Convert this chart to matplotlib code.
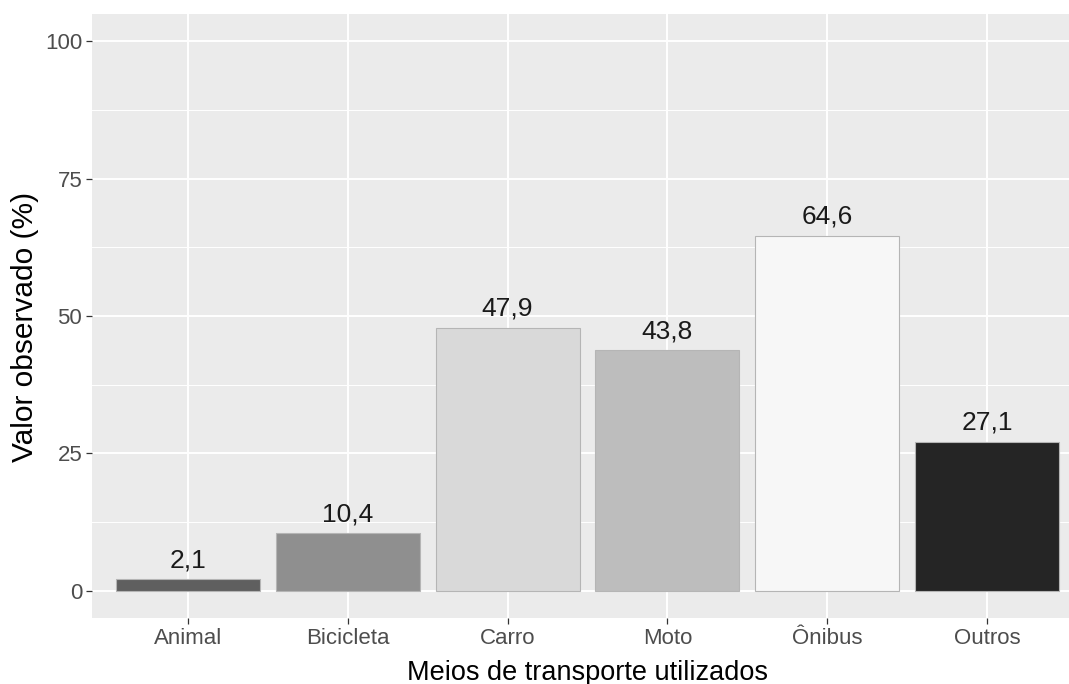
import matplotlib
matplotlib.use("Agg")
import matplotlib.pyplot as plt
import numpy as np

# Transport modes and observed percentages
categorias = ["Animal", "Bicicleta", "Carro", "Moto", "Ônibus", "Outros"]
valores = [2.1, 10.4, 47.9, 43.8, 64.6, 27.1]
cores = ["#5f5f5f", "#8f8f8f", "#d9d9d9", "#bdbdbd", "#f7f7f7", "#252525"]
yticks = [0, 25, 50, 75, 100]

plt.rcParams["font.family"] = ["Liberation Sans", "DejaVu Sans"]

W, H = 1069, 684
fig = plt.figure(figsize=(W / 100, H / 100), dpi=100)
fig.patch.set_facecolor("white")

left, right, top, bottom = 92, 1083, 14, 618
ax = fig.add_axes([left / W, 1 - bottom / H, (right - left) / W, (bottom - top) / H])
ax.set_facecolor("#EBEBEB")

x = np.arange(len(categorias))
ax.bar(x, valores, width=0.9, color=cores, edgecolor="#b5b5b5", linewidth=0.8, zorder=3)

for xi, v in zip(x, valores):
    ax.annotate(f"{v:.1f}".replace(".", ","), (xi, v), xytext=(0, 5),
                textcoords="offset points", ha="center", va="bottom",
                fontsize=19, color="#1a1a1a", zorder=4)

ax.set_xlim(-0.6, len(categorias) - 0.4)
ax.set_ylim(-5, 105)
ax.set_xticks(x)
ax.set_xticklabels(categorias)
ax.set_yticks(yticks)
ax.set_yticklabels([str(t) for t in yticks])
ax.set_yticks([12.5, 37.5, 62.5, 87.5], minor=True)

ax.grid(which="major", color="white", linewidth=1.4, zorder=0)
ax.grid(which="minor", axis="y", color="white", linewidth=0.7, zorder=0)
ax.set_axisbelow(True)
for s in ax.spines.values():
    s.set_visible(False)

ax.tick_params(axis="both", which="major", length=4, width=0.9, color="#333333",
               labelcolor="#4D4D4D", labelsize=16, pad=3)
ax.tick_params(axis="both", which="minor", length=0)

fig.text((left + right) / 2 / W, 1 - 680 / H, "Meios de transporte utilizados",
         ha="center", va="baseline", fontsize=19.5, color="black")
fig.text(25 / W, 1 - 327 / H, "Valor observado (%)",
         ha="center", va="center", rotation=90, fontsize=21.5, color="black")

fig.savefig("out.png", dpi=100)
